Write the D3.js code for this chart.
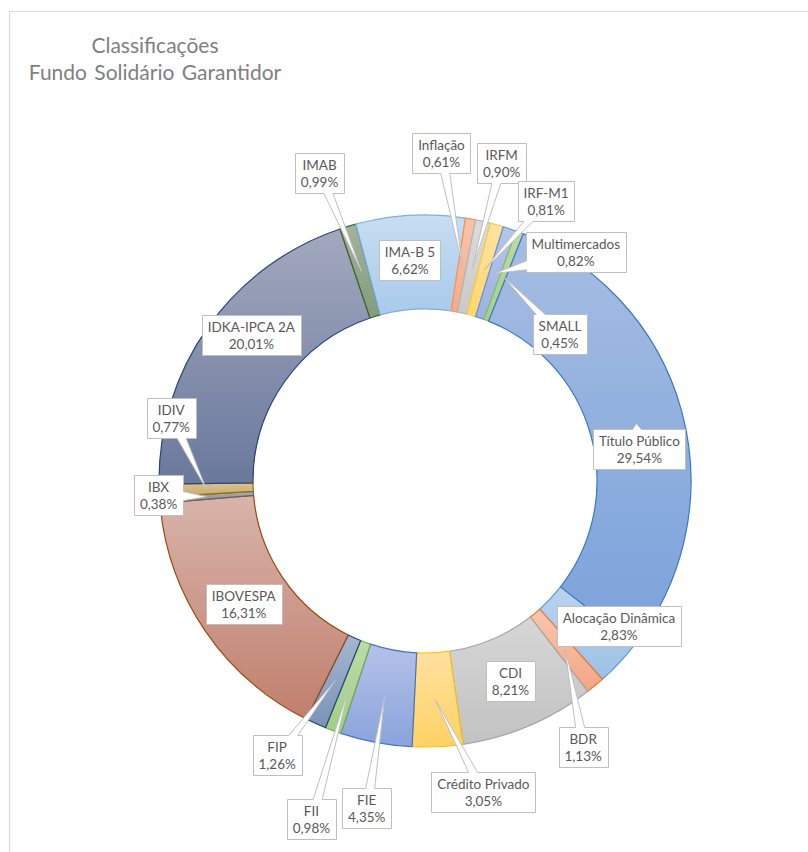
<!DOCTYPE html>
<html><head><meta charset="utf-8">
<script src="https://cdn.jsdelivr.net/npm/d3@7"></script>
<style>body{margin:0;background:#fff}svg{display:block}</style>
</head><body>
<svg id="c" width="808" height="852"></svg>
<script>
// ---- data ----
const categories = ["Alocação Dinâmica","BDR","CDI","Crédito Privado","FIE","FII","FIP","IBOVESPA","IBX","IDIV","IDKA-IPCA 2A","IMAB","IMA-B 5","Inflação","IRFM","IRF-M1","Multimercados","SMALL","Título Público"];
const values = [2.83,1.13,8.21,3.05,4.35,0.98,1.26,16.31,0.38,0.77,20.01,0.99,6.62,0.61,0.90,0.81,0.82,0.45,29.54];
const titleLines = ["Classificações","Fundo Solidário Garantidor"];

// ---- styles ----
const fillTop    = ["#bad3ee","#f8c6b0","#d6d6d6","#ffe0a0","#b4c2e8","#bcdba8","#a6b6cf","#d8b4aa","#ababab","#d8c295","#a3a9be","#a0b49a","#c7ddf2","#f8c4ac","#dcdcdc","#ffe3a3","#b6c6ea","#bcdba8","#a6bde2"];
const fillBottom = ["#9cc1e6","#f3a682","#c2c2c2","#ffd266","#8aa3dc","#a0cd84","#7a92b8","#c07f6d","#8a8a8a","#c8a868","#6a789d","#849b7c","#a8caec","#f4ab88","#c9c9c9","#ffd76c","#9bb2e2","#a5cf8a","#7aa2db"];
const strokes    = ["#5b9bd5","#ed7d31","#a5a5a5","#ffc000","#4472c4","#70ad47","#264478","#9e480e","#636363","#997300","#28467e","#43682b","#7cafdd","#f1975a","#b7b7b7","#ffcd33","#698ed0","#8cc168","#3b78c2"];
const labelOffsets = [[34,-5],[18,98],[0,-2],[48,92],[-18,112],[-38,132],[-58,74],[0,0],[-48,-2],[-35,-71],[5,-19],[-42,-98],[-3,-2],[-21,-112],[29,-104],[62,-69],[81,-21],[57,58],[3,25]];

const W = 808, H = 852;
const cx = 425, cy = 481, rOuter = 266, rInner = 172;
const startDeg = 128;
const svg = d3.select("#c");
const FONT = "Lato, 'Open Sans', sans-serif";

// chart frame
svg.append("rect").attr("x",9.5).attr("y",11.5).attr("width",W+20).attr("height",H+20)
  .attr("fill","#fff").attr("stroke","#d9d9d9").attr("stroke-width",1);

// title
const title = svg.append("text").attr("x",155).attr("y",53).attr("text-anchor","middle")
  .attr("font-family",FONT).attr("font-size",21).attr("fill","#808080").attr("word-spacing",2);
titleLines.forEach((t,i)=>title.append("tspan").attr("x",155).attr("dy",i?27:0).text(t));

// gradients
const defs = svg.append("defs");
categories.forEach((c,i)=>{
  const g = defs.append("linearGradient").attr("id","g"+i).attr("x1",0).attr("y1",0).attr("x2",0).attr("y2",1);
  g.append("stop").attr("offset","0%").attr("stop-color",fillTop[i]);
  g.append("stop").attr("offset","100%").attr("stop-color",fillBottom[i]);
});

const a0 = startDeg*Math.PI/180;
const pie = d3.pie().sort(null).value(d=>d.v).startAngle(a0).endAngle(a0+2*Math.PI);
const data = categories.map((c,i)=>({c, v:values[i], i}));
const arcs = pie(data);
const arc = d3.arc().innerRadius(rInner).outerRadius(rOuter);

const g = svg.append("g").attr("transform",`translate(${cx},${cy})`);
g.selectAll("path.slice").data(arcs).join("path").attr("class","slice")
  .attr("d",arc).attr("fill",d=>`url(#g${d.data.i})`)
  .attr("stroke",d=>strokes[d.data.i]).attr("stroke-width",1.2).attr("stroke-linejoin","round");

// labels
const locale = d3.formatLocale({decimal:",",thousands:".",grouping:[3],currency:["",""]});
const fmt = locale.format(".2f");

function calloutPath(x0,y0,w,h,tx,ty){
  const x1=x0+w, y1=y0+h, mx=x0+w/2, my=y0+h/2;
  if (tx>=x0 && tx<=x1 && ty>=y0 && ty<=y1) return `M${x0},${y0}H${x1}V${y1}H${x0}Z`;
  const dx=tx-mx, dy=ty-my, b=4.5;
  const sx = dx!==0 ? (w/2)/Math.abs(dx) : Infinity;
  const sy = dy!==0 ? (h/2)/Math.abs(dy) : Infinity;
  const cl=(v,lo,hi)=>Math.max(lo,Math.min(hi,v));
  let p;
  if (sy < sx) {
    const ex = cl(mx+dx*sy, x0+b+2, x1-b-2);
    p = dy<0 ? [[x0,y0],[ex-b,y0],[tx,ty],[ex+b,y0],[x1,y0],[x1,y1],[x0,y1]]
             : [[x0,y0],[x1,y0],[x1,y1],[ex+b,y1],[tx,ty],[ex-b,y1],[x0,y1]];
  } else {
    const ey = cl(my+dy*sx, y0+b+2, y1-b-2);
    p = dx>0 ? [[x0,y0],[x1,y0],[x1,ey-b],[tx,ty],[x1,ey+b],[x1,y1],[x0,y1]]
             : [[x0,y0],[x1,y0],[x1,y1],[x0,y1],[x0,ey+b],[tx,ty],[x0,ey-b]];
  }
  return "M"+p.map(q=>q.join(",")).join("L")+"Z";
}

const lg = g.append("g");
arcs.forEach(d=>{
  const i=d.data.i;
  const [px,py] = arc.centroid(d);
  const bx = px+labelOffsets[i][0], by = py+labelOffsets[i][1];
  const grp = lg.append("g");
  const path = grp.append("path");
  const t = grp.append("text").attr("text-anchor","middle").attr("font-family",FONT)
    .attr("font-size",13.5).attr("fill","#595959");
  t.append("tspan").attr("x",bx).attr("y",by-3).text(d.data.c);
  t.append("tspan").attr("x",bx).attr("y",by+14).text(fmt(d.data.v)+"%");
  const tw = t.node().getBBox().width;
  const w = Math.round(tw+11), h = 40;
  const x0 = Math.round(bx-w/2)+0.5, y0 = Math.round(by-h/2)+0.5;
  path.attr("d",calloutPath(x0,y0,w,h,px,py)).attr("fill","#fff").attr("stroke","#bfbfbf").attr("stroke-width",1);
});
</script>
</body></html>
